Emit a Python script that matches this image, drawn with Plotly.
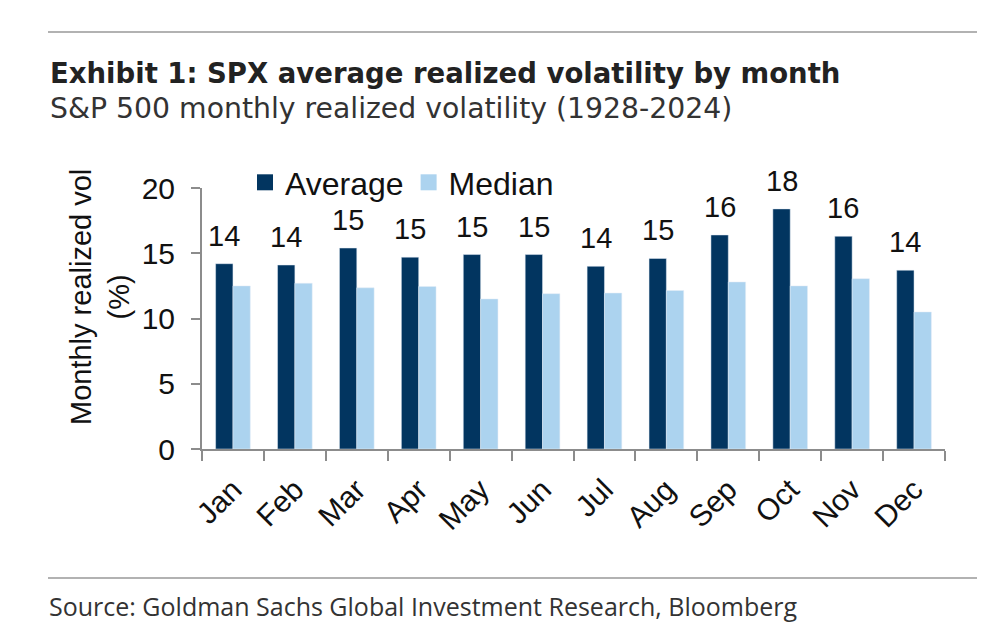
import plotly.graph_objects as go

# data
months = ['Jan', 'Feb', 'Mar', 'Apr', 'May', 'Jun',
          'Jul', 'Aug', 'Sep', 'Oct', 'Nov', 'Dec']
average = [14.2, 14.1, 15.4, 14.7, 14.9, 14.9, 14.0, 14.6, 16.4, 18.4, 16.3, 13.7]
median = [12.5, 12.7, 12.35, 12.45, 11.5, 11.9, 11.95, 12.15, 12.8, 12.5, 13.05, 10.5]
y_ticks = [0, 5, 10, 15, 20]

NAVY = '#023560'
LIGHT = '#acd3ef'
GREY = '#8c8c8c'
FONT = 'Liberation Sans, Arial, sans-serif'
HEAD = 'DejaVu Sans, sans-serif'
SRC = 'Open Sans, Noto Sans, sans-serif'

# the page body adds an 8px margin, so the figure is drawn 8px in from the corner
OFF = 8
FIG_W, FIG_H = 1000 - 2 * OFF, 635 - 2 * OFF

# plot box in screen pixels (as in the reference)
L, R, T, B = 202, 945, 188, 449
W, H = R - L, B - T
def px(x): return (x - L) / W
def py(y): return (B - y) / H

fig = go.Figure()
fig.add_trace(go.Bar(x=months, y=average, name='Average', marker_color=NAVY,
                     showlegend=False))
fig.add_trace(go.Bar(x=months, y=median, name='Median', marker_color=LIGHT,
                     showlegend=False))
# legend entries with bigger square swatches
for name, col in (('Average', NAVY), ('Median', LIGHT)):
    fig.add_trace(go.Scatter(x=[None], y=[None], mode='markers', name=name,
                             marker=dict(symbol='square', size=20, color=col)))

# value labels over the average bars
for m, v in zip(months, average):
    fig.add_annotation(x=m, y=v, text=f'{v:.0f}', showarrow=False,
                       xshift=-8.7, yshift=10, yanchor='bottom',
                       font=dict(size=29, color='#111111', family=FONT))

# y-axis title
fig.add_annotation(xref='paper', yref='paper', x=px(100), y=py(297),
                   xanchor='center', yanchor='middle',
                   text='Monthly realized vol<br>(%)', textangle=-90,
                   showarrow=False, font=dict(size=29, color='#111111', family=FONT))

# header and source
fig.add_annotation(xref='paper', yref='paper', x=px(48), y=py(73), xanchor='left',
                   yanchor='middle', showarrow=False,
                   text='<b>Exhibit 1: SPX average realized volatility by month</b>',
                   font=dict(size=27.5, color='#222222', family=HEAD))
fig.add_annotation(xref='paper', yref='paper', x=px(48), y=py(108), xanchor='left',
                   yanchor='middle', showarrow=False,
                   text='S&P 500 monthly realized volatility (1928-2024)',
                   font=dict(size=28.3, color='#333333', family=HEAD))
fig.add_annotation(xref='paper', yref='paper', x=px(47), y=py(606), xanchor='left',
                   yanchor='middle', showarrow=False,
                   text='Source: Goldman Sachs Global Investment Research, Bloomberg',
                   font=dict(size=25, color='#333333', family=SRC))

for yy in (32, 578):
    fig.add_shape(type='line', xref='paper', yref='paper',
                  x0=px(48), x1=px(977), y0=py(yy), y1=py(yy),
                  line=dict(color='#999999', width=1.5))

fig.update_layout(
    width=FIG_W, height=FIG_H,
    margin=dict(l=L - OFF, r=FIG_W - (R - OFF), t=T - OFF, b=FIG_H - (B - OFF)),
    barmode='group', bargap=0.44, bargroupgap=0,
    plot_bgcolor='white', paper_bgcolor='white',
    font=dict(family=FONT, color='#111111'),
    showlegend=True,
    legend=dict(orientation='h', x=px(245), y=py(155), xanchor='left', yanchor='top',
                font=dict(size=32, family=FONT), itemsizing='trace',
                bgcolor='rgba(0,0,0,0)', traceorder='normal'),
)
fig.update_xaxes(showline=True, linecolor=GREY, linewidth=2,
                 ticks='outside', tickson='boundaries', ticklen=10, tickcolor=GREY,
                 tickwidth=2, tickangle=-45, ticklabelstandoff=9,
                 tickfont=dict(size=30, family=FONT))
fig.update_yaxes(range=[0, 20], tickvals=y_ticks, showline=True, linecolor=GREY,
                 linewidth=2, ticks='outside', ticklen=9, tickcolor=GREY, tickwidth=2,
                 showgrid=False, zeroline=False, ticklabelstandoff=10,
                 tickfont=dict(size=30, family=FONT))

fig.write_html('out.html')
